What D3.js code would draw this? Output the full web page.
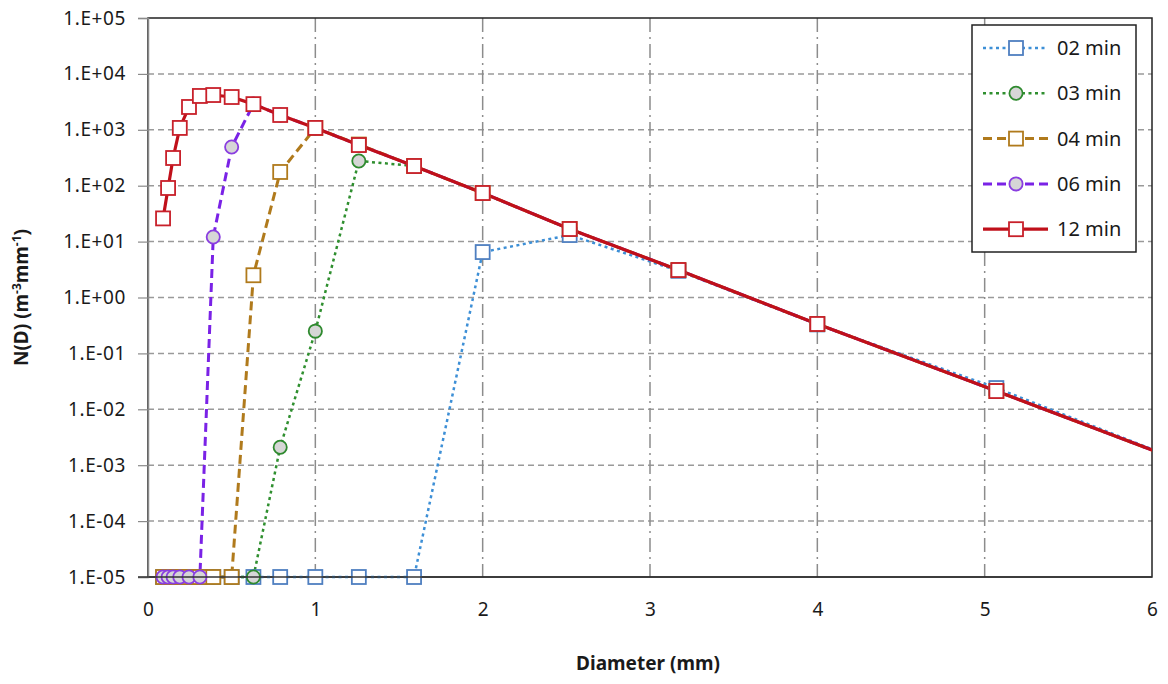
<!DOCTYPE html>
<html>
<head>
<meta charset="utf-8">
<script src="https://cdn.jsdelivr.net/npm/d3@7"></script>
<style>
  body { margin: 0; background: #fff; }
  text { font-family: "Noto Sans", "Liberation Sans", sans-serif; fill: #1a1a1a; }
</style>
</head>
<body>
<div id="chart"></div>
<script>
// diameters (mm) shared by all series
const diameters = [0.09, 0.12, 0.15, 0.19, 0.245, 0.31, 0.39, 0.5, 0.63, 0.79, 1.0, 1.26, 1.59, 2.0, 2.52, 3.17, 4.0, 5.07, 6.35]

// N(D) values, 1e-5 is the floor
const min02 = [1e-5, 1e-5, 1e-5, 1e-5, 1e-5, 1e-5, 1e-5, 1e-5, 1e-5, 1e-5, 1e-5, 1e-5, 1e-5, 6.5, 13.1, 3.0, 0.33, 0.024, 7.5e-4]
const min03 = [1e-5, 1e-5, 1e-5, 1e-5, 1e-5, 1e-5, 1e-5, 1e-5, 1e-5, 0.0021, 0.25, 277, 225, 74, 16.8, 3.1, 0.336, 0.0212, 7.5e-4]
const min04 = [1e-5, 1e-5, 1e-5, 1e-5, 1e-5, 1e-5, 1e-5, 1e-5, 2.5, 176, 1080, 545, 225, 74, 16.8, 3.1, 0.336, 0.0212, 7.5e-4]
const min06 = [1e-5, 1e-5, 1e-5, 1e-5, 1e-5, 1e-5, 12.1, 492, 2880, 1840, 1080, 534, 225, 74, 16.8, 3.1, 0.336, 0.0212, 7.5e-4]
const min12 = [26, 91, 313, 1080, 2560, 4030, 4190, 3860, 2880, 1840, 1080, 534, 225, 74, 16.8, 3.1, 0.336, 0.0212, 7.5e-4]

const seriesNames = ['02 min', '03 min', '04 min', '06 min', '12 min']
const seriesValues = [min02, min03, min04, min06, min12]

const xTicks = [0, 1, 2, 3, 4, 5, 6]
const yTicks = [1e-5, 1e-4, 1e-3, 1e-2, 1e-1, 1e0, 1e1, 1e2, 1e3, 1e4, 1e5]
const yTickLabels = ['1.E-05', '1.E-04', '1.E-03', '1.E-02', '1.E-01', '1.E+00', '1.E+01', '1.E+02', '1.E+03', '1.E+04', '1.E+05']

const styles = [
  {line: '#3d8fd6', marker: '#4f7fc0', fill: '#fff', dash: '3,3.5', width: 2.5, shape: 'square'},
  {line: '#2f8f2f', marker: '#2f8a2f', fill: '#d6d6d6', dash: '3,3.5', width: 2.5, shape: 'circle'},
  {line: '#b07a1c', marker: '#b07a1c', fill: '#fff', dash: '9,5', width: 3, shape: 'square'},
  {line: '#7a22e6', marker: '#8a3ee0', fill: '#d6d6d6', dash: '9,5', width: 3, shape: 'circle'},
  {line: '#c0101a', marker: '#c8202a', fill: '#fff', dash: null, width: 3.2, shape: 'square'}
]

const W = 1168, H = 684
const margin = {top: 18, right: 16, bottom: 107, left: 148}
const width = W - margin.left - margin.right
const height = H - margin.top - margin.bottom

const x = d3.scaleLinear().domain([0, 6]).range([0, width])
const y = d3.scaleLog().domain([1e-5, 1e5]).range([height, 0])

const svg = d3.select('#chart').append('svg')
  .attr('width', W)
  .attr('height', H)

svg.append('defs').append('clipPath').attr('id', 'plotclip')
  .append('rect').attr('x', -10).attr('width', width + 10).attr('height', height + 10)

const area = svg.append('g').attr('transform', 'translate(' + margin.left + ',' + margin.top + ')')

// grid
area.append('g').selectAll('line').data(yTicks.slice(1, -1)).enter().append('line')
  .attr('x1', 0).attr('x2', width)
  .attr('y1', d => y(d)).attr('y2', d => y(d))
  .attr('stroke', '#9a9a9a').attr('stroke-width', 1.5).attr('stroke-dasharray', '6,4')

area.append('g').selectAll('line').data(xTicks.slice(1, -1)).enter().append('line')
  .attr('y1', 0).attr('y2', height)
  .attr('x1', d => x(d)).attr('x2', d => x(d))
  .attr('stroke', '#8c8c8c').attr('stroke-width', 1.5).attr('stroke-dasharray', '14,5,2,5')

// plot border
area.append('rect').attr('width', width).attr('height', height)
  .attr('fill', 'none').attr('stroke', '#222').attr('stroke-width', 1.5)

// y axis
const yAxis = area.append('g')
  .call(d3.axisLeft(y).tickValues(yTicks).tickFormat((d, i) => yTickLabels[i]).tickSize(10).tickPadding(12))
yAxis.select('.domain').attr('stroke', '#8a8a8a').attr('stroke-width', 1.5)
yAxis.selectAll('.tick line').attr('stroke', '#8a8a8a').attr('stroke-width', 1.2)
yAxis.selectAll('.tick text').style('font-size', '19px').style('letter-spacing', '0.6px')
  .style('font-family', '"Noto Sans", sans-serif').attr('fill', '#1a1a1a')

// x axis labels
const xAxis = area.append('g').attr('transform', 'translate(0,' + height + ')')
  .call(d3.axisBottom(x).tickValues(xTicks).tickFormat(d3.format('d')).tickSize(0).tickPadding(26))
xAxis.select('.domain').remove()
xAxis.selectAll('.tick text').style('font-size', '19px').style('font-family', '"Noto Sans", sans-serif').attr('fill', '#1a1a1a')

// series
const plot = area.append('g').attr('clip-path', 'url(#plotclip)')
const line = d3.line().x(d => x(d[0])).y(d => y(d[1]))

seriesValues.forEach(function(vals, i) {
  const pts = diameters.map((d, j) => [d, vals[j]])
  const st = styles[i]
  plot.append('path').datum(pts)
    .attr('d', line)
    .attr('fill', 'none')
    .attr('stroke', st.line)
    .attr('stroke-width', st.width)
    .attr('stroke-dasharray', st.dash)
})

// bottom axis line over series lines
area.append('line').attr('x1', -10).attr('x2', width).attr('y1', height).attr('y2', height)
  .attr('stroke', '#333').attr('stroke-width', 1.5)

function drawMarker(g, cx, cy, st) {
  if (st.shape === 'square') {
    g.append('rect').attr('x', cx - 7).attr('y', cy - 7).attr('width', 14).attr('height', 14)
      .attr('fill', st.fill).attr('stroke', st.marker).attr('stroke-width', 1.8)
  } else {
    g.append('circle').attr('cx', cx).attr('cy', cy).attr('r', 6.6)
      .attr('fill', st.fill).attr('stroke', st.marker).attr('stroke-width', 1.8)
  }
}

seriesValues.forEach(function(vals, i) {
  const g = plot.append('g')
  diameters.forEach(function(d, j) {
    if (d <= 6) drawMarker(g, x(d), y(vals[j]), styles[i])
  })
})

// legend
const legend = area.append('g').attr('transform', 'translate(' + (972 - margin.left) + ',' + (25 - margin.top) + ')')
legend.append('rect').attr('width', 164).attr('height', 227)
  .attr('fill', '#fff').attr('stroke', '#222').attr('stroke-width', 1.5)

seriesNames.forEach(function(name, i) {
  const st = styles[i]
  const ly = 23 + i * 45.3
  legend.append('line').attr('x1', 11).attr('x2', 76).attr('y1', ly).attr('y2', ly)
    .attr('stroke', st.line).attr('stroke-width', st.width).attr('stroke-dasharray', st.dash)
  drawMarker(legend, 44, ly, st)
  legend.append('text').attr('x', 85).attr('y', ly).attr('dy', '0.35em')
    .style('font-size', '20px').text(name)
})

// axis titles
svg.append('text')
  .attr('x', margin.left + width / 2 - 2).attr('y', 670)
  .attr('text-anchor', 'middle')
  .style('font-size', '19px').style('font-weight', 'bold')
  .text('Diameter (mm)')

const yt = svg.append('text')
  .attr('transform', 'translate(28,' + (margin.top + height / 2) + ') rotate(-90)')
  .attr('text-anchor', 'middle')
  .style('font-size', '19px').style('font-weight', 'bold')
yt.append('tspan').text('N(D) (m')
yt.append('tspan').attr('dy', -7).style('font-size', '12px').text('-3')
yt.append('tspan').attr('dy', 7).text('mm')
yt.append('tspan').attr('dy', -7).style('font-size', '12px').text('-1')
yt.append('tspan').attr('dy', 7).text(')')
</script>
</body>
</html>
